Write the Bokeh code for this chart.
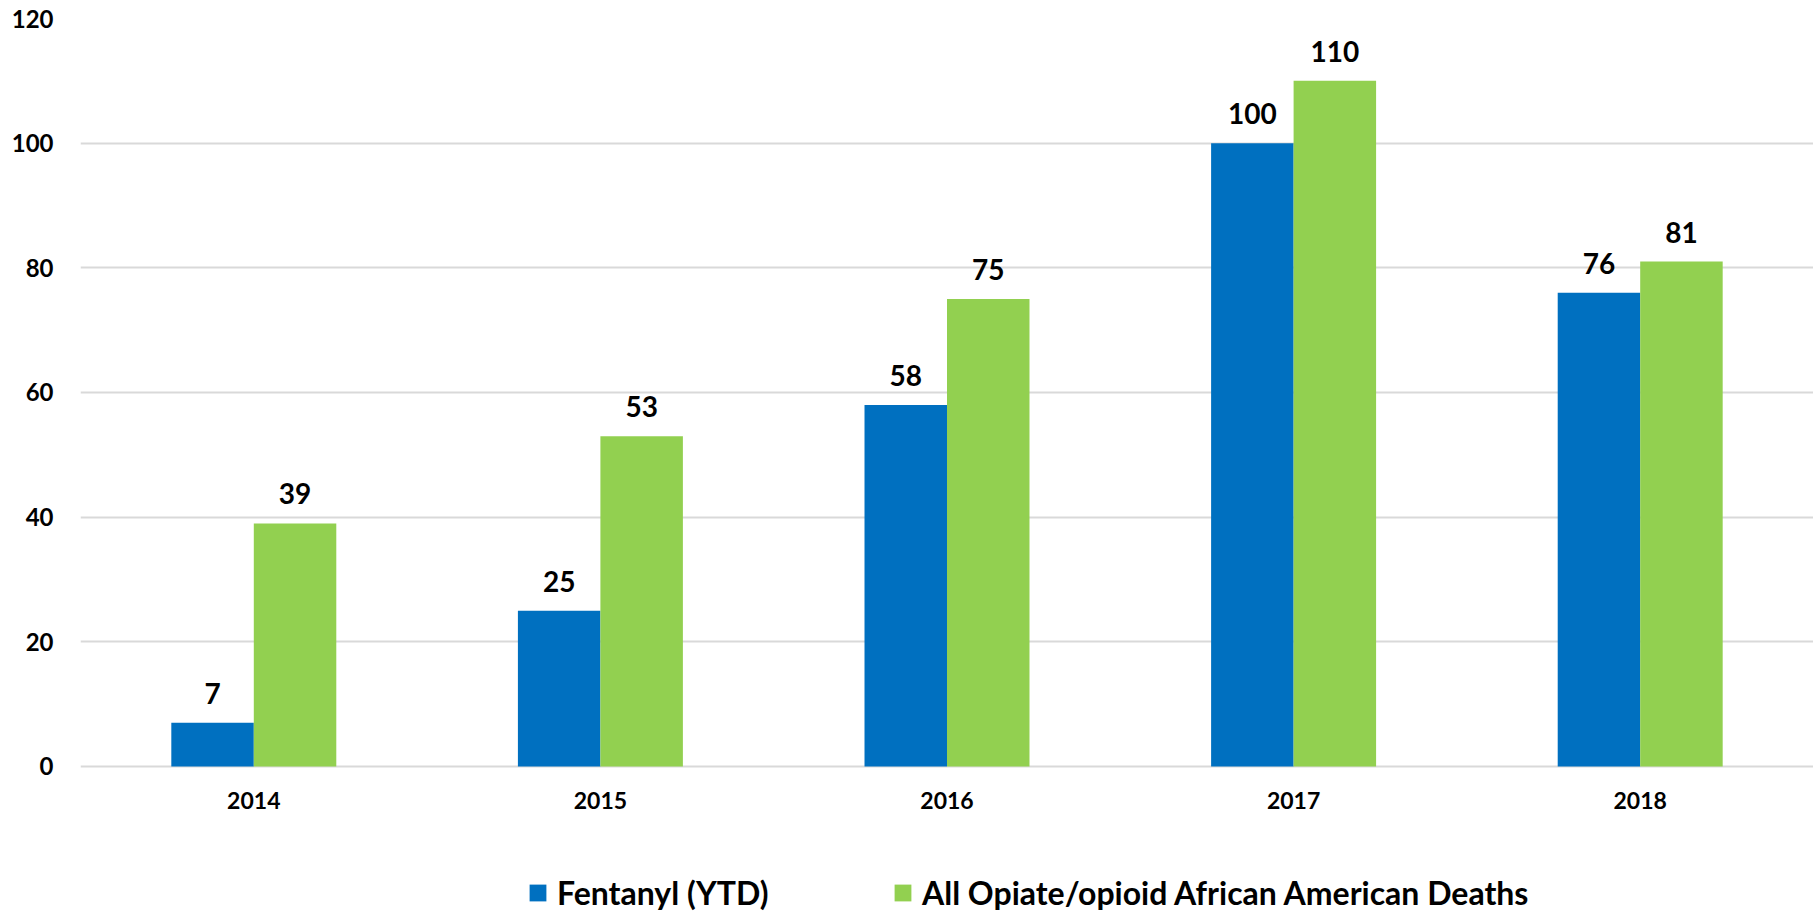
from bokeh.plotting import figure
from bokeh.models import ColumnDataSource, FactorRange, Range1d, FixedTicker, LabelSet, Legend, LegendItem
from bokeh.core.properties import value
from bokeh.transform import dodge
from bokeh.embed import file_html
from bokeh.resources import INLINE

years = ["2014", "2015", "2016", "2017", "2018"]
fentanyl = [7, 25, 58, 100, 76]
all_opioid = [39, 53, 75, 110, 81]
y_ticks = [0, 20, 40, 60, 80, 100, 120]
series_names = ["Fentanyl (YTD)", "All Opiate/opioid African American Deaths"]
colors = ["#0070C0", "#92D050"]

FONT = "Lato"

src = ColumnDataSource(dict(
    years=years,
    base=[0] * len(years),
    fentanyl=fentanyl,
    all_opioid=all_opioid,
    fentanyl_lbl=[str(v) for v in fentanyl],
    all_lbl=[str(v) for v in all_opioid],
))

# frame spans down to the bottom of the page so the legend can sit inside it;
# values below 0 are left empty (0 sits at the same pixel height as the reference)
p = figure(
    x_range=FactorRange(factors=years),
    y_range=Range1d(-25.35, 120),
    width=1813, height=924,
    output_backend="svg", toolbar_location=None,
    min_border_left=80, min_border_right=0, min_border_top=18, min_border_bottom=0,
)
p.outline_line_color = None
p.background_fill_color = "white"
p.border_fill_color = "white"

bw = 0.238
r1 = p.vbar(x=dodge("years", -bw / 2, range=p.x_range), top="fentanyl", width=bw,
            source=src, fill_color=colors[0], line_color=None)
r2 = p.vbar(x=dodge("years", bw / 2, range=p.x_range), top="all_opioid", width=bw,
            source=src, fill_color=colors[1], line_color=None)

for col, lbl, off in (("fentanyl", "fentanyl_lbl", -bw / 2), ("all_opioid", "all_lbl", bw / 2)):
    ls = LabelSet(x=dodge("years", off, range=p.x_range), y=col, text=lbl, source=src,
                  text_align="center", text_baseline="alphabetic", y_offset=19,
                  text_font=value(FONT), text_font_style="bold", text_font_size="28px",
                  text_color="black")
    p.add_layout(ls)

# category labels under the baseline, placed by the categorical scale
xl = LabelSet(x="years", y="base", text="years", source=src,
              text_align="center", text_baseline="alphabetic", y_offset=-43,
              text_font=value(FONT), text_font_style="bold", text_font_size="23px",
              text_color="black")
p.add_layout(xl)
p.xaxis.visible = False

# y axis
p.yaxis.ticker = FixedTicker(ticks=y_ticks)
p.yaxis.axis_line_color = None
p.yaxis.major_tick_line_color = None
p.yaxis.minor_tick_line_color = None
p.yaxis.major_tick_out = 0
p.yaxis.major_label_standoff = 27
p.yaxis.major_label_text_font = FONT
p.yaxis.major_label_text_font_style = "bold"
p.yaxis.major_label_text_font_size = "24px"
p.yaxis.major_label_text_color = "black"

p.xgrid.grid_line_color = None
p.ygrid.ticker = FixedTicker(ticks=y_ticks)
p.ygrid.grid_line_color = "#d9d9d9"
p.ygrid.grid_line_width = 2

legend = Legend(
    items=[LegendItem(label=series_names[0], renderers=[r1]),
           LegendItem(label=series_names[1], renderers=[r2])],
    orientation="horizontal",
    location=(447, 12),
    padding=0, margin=0,
    glyph_width=21, glyph_height=21,
    label_standoff=9, label_width=226, spacing=109,
    label_text_font=FONT, label_text_font_style="bold", label_text_font_size="32px",
    label_text_color="black", label_height=21,
    background_fill_alpha=0, border_line_alpha=0,
)
p.add_layout(legend, "center")

open("out.html", "w").write(file_html(p, INLINE))
